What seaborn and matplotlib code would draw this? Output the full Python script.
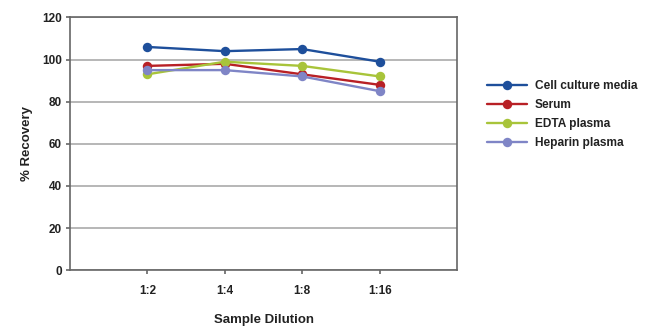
import matplotlib
matplotlib.use("Agg")
import matplotlib.pyplot as plt
import seaborn as sns
import pandas as pd

dilutions = ["1:2", "1:4", "1:8", "1:16"]
cell_culture = [106, 104, 105, 99]
serum = [97, 98, 93, 88]
edta = [93, 99, 97, 92]
heparin = [95, 95, 92, 85]
series_names = ["Cell culture media", "Serum", "EDTA plasma", "Heparin plasma"]
colors = ["#1E4F9B", "#B82025", "#A8C43A", "#7F85C6"]

rows = []
for name, vals in zip(series_names, [cell_culture, serum, edta, heparin]):
    for i, (d, v) in enumerate(zip(dilutions, vals)):
        rows.append({"Dilution": d, "pos": i, "Recovery": v, "Series": name})
df = pd.DataFrame(rows)

sns.set_theme(style="white")
font = ["Liberation Sans Narrow", "Liberation Sans", "DejaVu Sans"]
plt.rcParams["font.family"] = font
plt.rcParams["font.weight"] = "bold"

fig = plt.figure(figsize=(6.5, 3.36), dpi=100)
ax = fig.add_axes([0.1077, 0.196, 0.5954, 0.752])

sns.lineplot(data=df, x="pos", y="Recovery", hue="Series", hue_order=series_names,
             palette=colors, marker="o", markersize=6.8, markeredgewidth=0,
             linewidth=1.7, ax=ax)

ax.set_xlim(-1, 4)
ax.set_ylim(0, 120)
ax.set_yticks(range(0, 121, 20))
ax.set_xticks(range(len(dilutions)))
ax.set_xticklabels(dilutions)
ax.yaxis.grid(True, color="#AAAAAA", linewidth=1.2)
ax.set_axisbelow(True)
for s in ax.spines.values():
    s.set_color("#666666")
    s.set_linewidth(1.2)
    s.set_visible(True)
ax.tick_params(axis="y", length=3, width=1.2, color="#666666", direction="out",
               labelsize=8.5, pad=3, left=True)
ax.tick_params(axis="x", length=3, width=1.2, color="#666666", direction="out",
               labelsize=8.5, pad=8, bottom=True)
for lab in ax.get_xticklabels() + ax.get_yticklabels():
    lab.set_fontweight("bold")
    lab.set_color("#222222")

ax.set_xlabel("Sample Dilution", fontsize=9.5, fontweight="bold", color="#222222", labelpad=12)
ax.set_ylabel("% Recovery", fontsize=9.5, fontweight="bold", color="#222222", labelpad=6)

leg = ax.legend(loc="upper left", bbox_to_anchor=(1.066, 0.772), frameon=False,
                fontsize=8.6, handlelength=3.3, handletextpad=0.7, labelspacing=0.6,
                borderaxespad=0)
for t in leg.get_texts():
    t.set_fontweight("bold")
    t.set_color("#222222")

fig.savefig("out.png", dpi=100)
